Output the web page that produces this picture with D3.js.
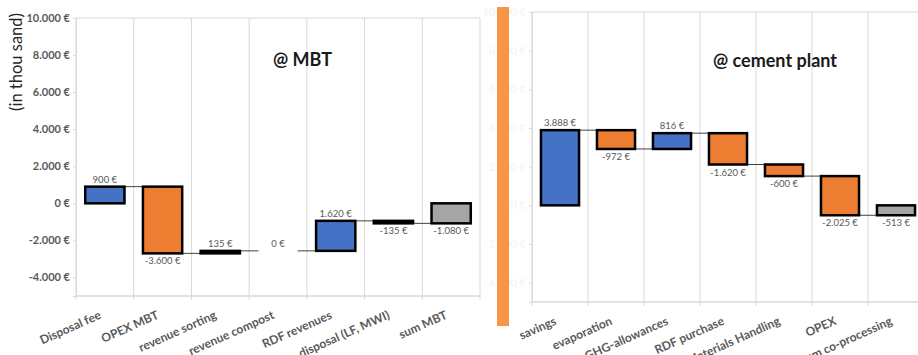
<!DOCTYPE html>
<html>
<head>
<meta charset="utf-8">
<script src="https://cdn.jsdelivr.net/npm/d3@7"></script>
<style>
  body { margin: 0; background: #fff; }
  svg { display: block; font-family: Lato, "Open Sans", sans-serif; }
</style>
</head>
<body>
<div id="chart"></div>
<script>
// chart values
const mbtCategories = ["Disposal fee", "OPEX MBT", "revenue sorting", "revenue compost", "RDF revenues", "disposal (LF, MWI)", "sum MBT"];
const mbtValues = [900, -3600, 135, 0, 1620, -135, -1080];

const cementCategories = ["savings", "evaporation", "GHG-allowances", "RDF purchase", "Materials Handling", "OPEX", "sum co-processing"];
const cementValues = [3888, -972, 816, -1620, -600, -2025, -513];

const yTicks = [-4000, -2000, 0, 2000, 4000, 6000, 8000, 10000];
const yDomain = [-5000, 10000];

const width = 918;
const height = 355;

const locale = d3.formatLocale({decimal: ",", thousands: ".", grouping: [3], currency: ["", " €"], minus: "-"});
const euro = locale.format("$,.0f");

const blue = "#4472C4", orange = "#ED7D31", grey = "#A5A5A5";
const gridColor = "#d9d9d9", textColor = "#595959";

const svg = d3.select("#chart")
    .append("svg")
    .attr("width", width)
    .attr("height", height)
    .attr("viewBox", [0, 0, width, height]);

function drawWaterfall(g, categories, values, box, title, tickColor) {
  // Declare the scales.
  const x = d3.scaleBand()
      .domain(categories)
      .range([box.left, box.right])
      .paddingInner(0.32)
      .paddingOuter(0.16);
  const step = x.step();

  const y = d3.scaleLinear()
      .domain(yDomain)
      .range([box.bottom, box.top]);

  // running totals; last bar is the total starting at 0
  let run = 0;
  const bars = categories.map((c, i) => {
    const last = i === categories.length - 1;
    const start = last ? 0 : run;
    const end = last ? values[i] : run + values[i];
    if (!last) run = end;
    return {cat: c, value: values[i], start, end, last};
  });

  // gridlines at category borders
  const borders = categories.map(c => x(c) - step * 0.16).concat([box.right]);
  g.append("g")
      .selectAll("line")
      .data(borders)
      .join("line")
      .attr("x1", d => d).attr("x2", d => d)
      .attr("y1", y(yDomain[1])).attr("y2", y(yDomain[0]) + 4)
      .attr("stroke", gridColor);

  // plot frame top + bottom axis
  g.append("line")
      .attr("x1", box.left).attr("x2", box.right)
      .attr("y1", y(yDomain[1])).attr("y2", y(yDomain[1]))
      .attr("stroke", gridColor);
  g.append("line")
      .attr("x1", box.left).attr("x2", box.right)
      .attr("y1", y(yDomain[0])).attr("y2", y(yDomain[0]))
      .attr("stroke", gridColor).attr("stroke-width", 1.5);

  // y-axis
  g.append("g")
      .attr("transform", `translate(${box.left},0)`)
      .call(d3.axisLeft(y).tickValues(yTicks).tickFormat(euro).tickSize(3))
      .call(a => a.select(".domain").attr("stroke", gridColor))
      .call(a => a.selectAll(".tick line").attr("stroke", gridColor))
      .call(a => a.selectAll(".tick text")
          .attr("fill", tickColor)
          .attr("font-size", 11)
          .attr("font-weight", "bold")
          .attr("font-family", "Lato, sans-serif"));

  // x labels
  g.append("g")
      .selectAll("text")
      .data(categories)
      .join("text")
      .attr("transform", d => `translate(${x(d) + x.bandwidth() / 2 - 3},${y(yDomain[0]) + 22}) rotate(-24)`)
      .attr("text-anchor", "end")
      .attr("fill", textColor)
      .attr("font-size", 12)
      .attr("font-weight", "bold")
      .text(d => d);

  // connectors
  g.append("g")
      .selectAll("line")
      .data(bars.slice(0, -1))
      .join("line")
      .attr("x1", d => x(d.cat) + x.bandwidth())
      .attr("x2", (d, i) => x(bars[i + 1].cat))
      .attr("y1", d => y(d.end)).attr("y2", d => y(d.end))
      .attr("stroke", "#404040")
      .attr("stroke-width", 1);

  // bars
  g.append("g")
      .selectAll("rect")
      .data(bars.filter(d => d.value !== 0))
      .join("rect")
      .attr("x", d => x(d.cat))
      .attr("width", x.bandwidth())
      .attr("y", d => y(Math.max(d.start, d.end)))
      .attr("height", d => Math.abs(y(d.start) - y(d.end)))
      .attr("fill", d => d.last ? grey : d.value > 0 ? blue : orange)
      .attr("stroke", "#000")
      .attr("stroke-width", 2.5);

  // value labels
  g.append("g")
      .selectAll("text")
      .data(bars)
      .join("text")
      .attr("x", d => x(d.cat) + x.bandwidth() / 2)
      .attr("y", d => d.value >= 0 ? y(Math.max(d.start, d.end)) - 4 : y(Math.min(d.start, d.end)) + 11)
      .attr("text-anchor", "middle")
      .attr("fill", textColor)
      .attr("font-size", 9.5)
      .text(d => euro(d.value));

  // title
  g.append("text")
      .attr("x", title.x)
      .attr("y", title.y)
      .attr("font-size", 18)
      .attr("font-weight", "bold")
      .attr("fill", "#1a1a1a")
      .text(title.text);
}

// left chart: @ MBT
const left = svg.append("g");
drawWaterfall(left, mbtCategories, mbtValues,
    {left: 76, right: 480, top: 18, bottom: 296},
    {x: 273, y: 66, text: "@ MBT"}, textColor);

left.append("text")
    .attr("transform", "translate(22,62) rotate(-90)")
    .attr("text-anchor", "middle")
    .attr("font-size", 16.5)
    .attr("fill", "#262626")
    .text("(in thou sand)");

// right chart: @ cement plant (its y labels sit almost hidden behind the stripe)
const right = svg.append("g");
drawWaterfall(right, cementCategories, cementValues,
    {left: 532, right: 924, top: 12, bottom: 302},
    {x: 713, y: 67, text: "@ cement plant"}, "#f6f6f6");

// orange divider stripe
svg.append("rect")
    .attr("x", 497)
    .attr("y", 7)
    .attr("width", 12)
    .attr("height", 319)
    .attr("fill", "#F79646");
</script>
</body>
</html>
